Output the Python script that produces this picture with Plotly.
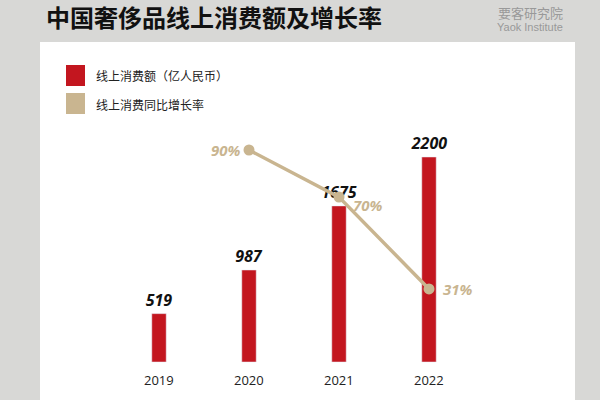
import plotly.graph_objects as go

years = ["2019", "2020", "2021", "2022"]
sales = [519, 987, 1675, 2200]
growth_years = ["2020", "2021", "2022"]
growth = [90, 70, 31]
growth_labels = ["90%", "70%", "31%"]

RED = "#c3161f"
TAN = "#c9b590"
xi = {y: i for i, y in enumerate(years)}

fig = go.Figure()
fig.add_bar(x=[xi[y] for y in years], y=sales, marker_color=RED, width=0.16,
            text=[f"<b><i>{v}</i></b>" for v in sales], textposition="outside", cliponaxis=False,
            constraintext="none",
            textfont=dict(family="Open Sans", size=16, color="#111"),
            hoverinfo="skip")
fig.add_scatter(x=[xi[y] for y in growth_years], y=growth, yaxis="y2", mode="lines+markers",
                line=dict(color=TAN, width=3.5), marker=dict(color=TAN, size=11), hoverinfo="skip")
for y, g, lab in zip(growth_years, growth, growth_labels):
    left = (y == "2020")
    fig.add_annotation(x=xi[y], y=g, yref="y2", text=f"<b><i>{lab}</i></b>", showarrow=False,
                       xanchor="right" if left else "left", xshift=-6 if left else 12,
                       yshift=-8 if y == "2021" else 0, yanchor="middle",
                       font=dict(family="Open Sans", size=15, color=TAN))
for y in years:
    fig.add_annotation(x=xi[y], y=1-380/400, yref="paper", yanchor="middle", text=y, showarrow=False,
                       font=dict(family="Open Sans", size=13, color="#222"))

shapes = [
    dict(type="rect", xref="paper", yref="paper", x0=40/600, x1=575/600, y0=0, y1=1-42/400, fillcolor="white", line_width=0, layer="below"),
    dict(type="rect", xref="paper", yref="paper", x0=66/600, x1=85/600, y0=1-86/400, y1=1-65/400, fillcolor=RED, line_width=0),
    dict(type="rect", xref="paper", yref="paper", x0=66/600, x1=85/600, y0=1-114/400, y1=1-93/400, fillcolor=TAN, line_width=0),
]
fig.update_layout(shapes=shapes)
def txt(x, y, s, size, color, anchor="left", fam="Noto Sans CJK SC"):
    fig.add_annotation(x=x/600, y=1-y/400, xref="paper", yref="paper", xanchor=anchor, yanchor="middle",
                       text=s, showarrow=False, font=dict(family=fam, size=size, color=color))
txt(44, 16, "<b>中国奢侈品线上消费额及增长率</b>", 24, "#111")
txt(565, 12, "要客研究院", 13, "#999", "right")
txt(565, 27, "Yaok Institute", 11, "#999", "right", "Liberation Sans")
txt(94, 75, "线上消费额（亿人民币）", 12, "#222")
txt(94, 104, "线上消费同比增长率", 12, "#222")

fig.update_layout(
    width=600, height=400, margin=dict(l=0, r=0, t=0, b=0), showlegend=False,
    paper_bgcolor="#d8d8d6", plot_bgcolor="rgba(0,0,0,0)",
    xaxis=dict(range=[-159/90, 441/90], visible=False, fixedrange=True),
    yaxis=dict(range=[-38*2200/205, 362*2200/205], visible=False),
    yaxis2=dict(range=[-38*90/212, 362*90/212], overlaying="y", visible=False),
)
fig.write_html("out.html", config={"displayModeBar": False},
               post_script="document.body.style.margin='0';document.body.style.overflow='hidden';")
